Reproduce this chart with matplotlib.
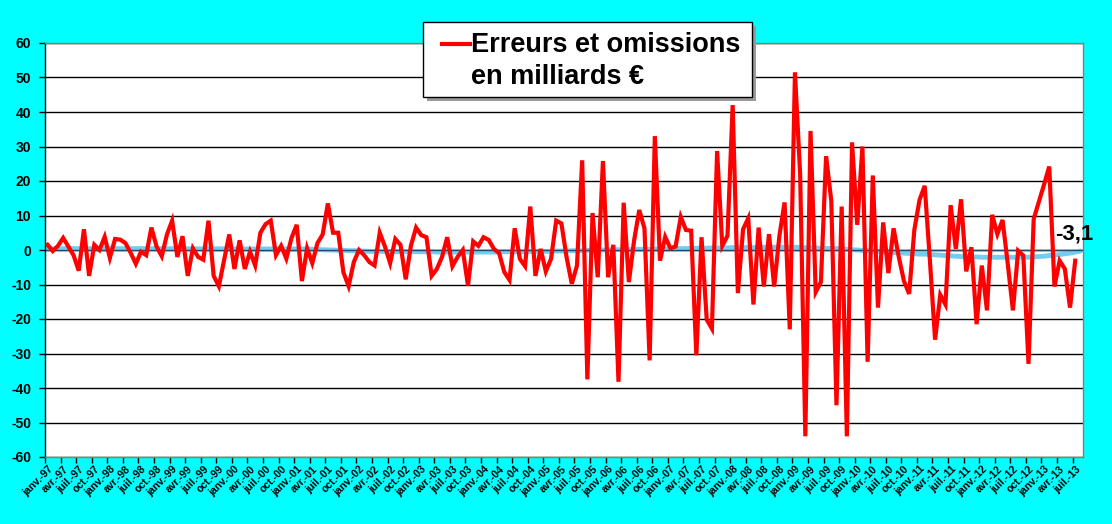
import matplotlib
matplotlib.use("Agg")
import matplotlib.pyplot as plt
import numpy as np
from matplotlib.patches import Rectangle
from matplotlib.lines import Line2D

plt.rcParams['font.family'] = ['Liberation Sans', 'DejaVu Sans']

months = ["janv.", "févr.", "mars", "avr.", "mai", "juin", "juil.", "août", "sept.", "oct.", "nov.", "déc."]
years = list(range(1997, 2014))
categories = [f"{m}-{str(y)[2:]}" for y in years for m in months][:200]  # janv.-97 .. août-13

# Erreurs et omissions (milliards €), monthly from janv.-97
erreurs = [
    1.5, -0.3, 1.2, 3.5, 1.0, -1.5, -6.0, 6.0, -7.5, 1.5, 0.0, 3.8,          # 1997
    -2.3, 3.2, 3.0, 2.0, -0.8, -4.0, -0.5, -1.5, 6.5, 1.0, -1.8, 4.5,        # 1998
    8.5, -2.0, 4.0, -7.5, 0.5, -2.0, -2.8, 8.5, -7.5, -10.5, -3.0, 4.5,      # 1999
    -5.5, 2.8, -5.5, -0.5, -4.5, 5.0, 7.5, 8.5, -1.5, 1.2, -2.5, 3.5,        # 2000
    7.3, -9.0, 0.5, -3.8, 2.0, 4.5, 13.5, 5.0, 5.0, -6.5, -10.5, -3.5,       # 2001
    0.0, -1.5, -3.5, -4.5, 5.0, 1.0, -3.8, 3.2, 1.5, -8.5, 1.2, 6.5,         # 2002
    4.3, 3.7, -7.5, -5.5, -2.0, 3.7, -4.7, -2.0, 0.0, -10.3, 2.5, 1.2,       # 2003
    3.7, 2.9, 0.3, -0.9, -6.4, -8.7, 6.3, -2.6, -4.7, 12.6, -7.5, 0.3,       # 2004
    -6.2, -2.6, 8.5, 7.7, -2.1, -9.8, -4.5, 26.0, -37.5, 10.7, -7.9, 25.8,   # 2005
    -7.9, 1.5, -38.2, 13.7, -9.3, 2.7, 11.6, 6.3, -32.0, 33.0, -3.1, 3.8,    # 2006
    0.5, 1.0, 9.6, 5.8, 5.6, -30.5, 3.7, -20.2, -22.8, 28.7, 1.2, 4.1,       # 2007
    42.0, -12.5, 6.0, 9.2, -15.8, 6.5, -10.6, 4.6, -10.6, 4.1, 13.8, -23.0,  # 2008
    51.5, 22.0, -54.0, 34.5, -12.2, -9.3, 27.2, 14.2, -45.0, 12.6, -54.0, 31.2,  # 2009
    7.3, 30.0, -32.4, 21.6, -16.7, 8.0, -6.7, 6.3, -2.0, -9.0, -12.7, 5.8,   # 2010
    14.5, 18.6, -3.0, -26.0, -13.0, -15.8, 13.0, 0.3, 14.7, -6.2, 0.8, -21.5,  # 2011
    -4.5, -17.5, 10.2, 4.6, 8.7, -4.0, -17.5, -0.2, -1.6, -33.0, 9.0, 14.0,  # 2012
    19.0, 24.2, -10.6, -3.1, -5.5, -16.7, -3.1, np.nan,                      # 2013
]

# Light blue trend line
tendance = [
    0.4, 0.4, 0.4, 0.4, 0.4, 0.4, 0.4, 0.4, 0.4, 0.4, 0.4, 0.4,
    0.4, 0.4, 0.4, 0.4, 0.4, 0.4, 0.4, 0.4, 0.4, 0.4, 0.4, 0.4,
    0.35, 0.35, 0.35, 0.35, 0.35, 0.35, 0.35, 0.35, 0.35, 0.35, 0.35, 0.35,
    0.3, 0.3, 0.3, 0.3, 0.3, 0.3, 0.3, 0.3, 0.3, 0.3, 0.3, 0.3,
    0.3, 0.3, 0.2, 0.2, 0.1, 0.1, 0.0, 0.0, -0.1, -0.1, -0.2, -0.2,
    -0.3, -0.3, -0.4, -0.4, -0.4, -0.4, -0.5, -0.5, -0.5, -0.5, -0.5, -0.5,
    -0.5, -0.5, -0.5, -0.6, -0.6, -0.6, -0.6, -0.6, -0.6, -0.6, -0.6, -0.6,
    -0.6, -0.6, -0.6, -0.6, -0.5, -0.5, -0.5, -0.5, -0.5, -0.4, -0.4, -0.4,
    -0.4, -0.4, -0.3, -0.3, -0.3, -0.2, -0.2, -0.2, -0.1, -0.1, 0.0, 0.0,
    0.0, 0.1, 0.1, 0.1, 0.1, 0.2, 0.2, 0.2, 0.2, 0.3, 0.3, 0.3,
    0.3, 0.4, 0.4, 0.4, 0.5, 0.5, 0.5, 0.5, 0.6, 0.6, 0.6, 0.6,
    0.7, 0.7, 0.7, 0.7, 0.7, 0.8, 0.8, 0.8, 0.8, 0.8, 0.8, 0.8,
    0.8, 0.7, 0.7, 0.6, 0.6, 0.5, 0.5, 0.4, 0.4, 0.3, 0.2, 0.1,
    0.0, -0.1, -0.2, -0.3, -0.4, -0.5, -0.6, -0.7, -0.8, -0.9, -1.0, -1.1,
    -1.2, -1.2, -1.3, -1.4, -1.5, -1.6, -1.7, -1.8, -1.9, -2.0, -2.0, -2.0,
    -2.1, -2.1, -2.1, -2.1, -2.1, -2.1, -2.1, -2.1, -2.1, -2.1, -2.0, -1.9,
    -1.8, -1.6, -1.5, -1.3, -1.1, -0.9, -0.6, -0.3,
]

yticks = list(range(-60, 61, 10))
legend_label = "Erreurs et omissions\nen milliards €"
last_label = "-3,1"

fig = plt.figure(figsize=(11.12, 5.24), dpi=100)
fig.patch.set_facecolor('#00FFFF')
ax = fig.add_axes([45/1112, 67/524, 1038/1112, 414/524])
ax.set_facecolor('white')

x = np.arange(len(categories))
ax.set_xlim(-0.5, len(categories) - 0.5)
ax.set_ylim(-60, 60)

for yv in yticks:
    ax.axhline(yv, color='black', lw=1.0, zorder=1)

ax.plot(x, tendance, color='#74CDF0', lw=3.5, zorder=2, solid_capstyle='round')
ax.axhline(0, color='#1F4A6E', lw=1.0, zorder=2.5)
ax.plot(np.arange(len(erreurs)), erreurs, color='#FF0000', lw=3.0, zorder=3,
        solid_joinstyle='miter')

# last value label
last_i = max(i for i, v in enumerate(erreurs) if not np.isnan(v))
ax.annotate(last_label, (last_i, erreurs[last_i]), xytext=(-1, 12), textcoords='offset points',
            ha='center', va='bottom', fontsize=16, fontweight='bold', color='black', zorder=5)

# axes styling
for s in ['top', 'right', 'bottom']:
    ax.spines[s].set_color('#808080')
    ax.spines[s].set_linewidth(1.0)
ax.spines['left'].set_color('black')
ax.spines['left'].set_linewidth(1.0)

ax.set_yticks(yticks)
ax.set_yticklabels([str(v) for v in yticks], fontsize=10, fontweight='bold')
ax.tick_params(axis='y', direction='out', length=4, width=1, pad=6)

ax.set_xticks(np.arange(-0.5, len(categories), 3))
ax.set_xticklabels([])
ax.tick_params(axis='x', which='major', direction='out', length=4, width=1, color='black')
ax.set_xticks(x[::3], minor=True)
ax.set_xticklabels(categories[::3], minor=True, rotation=45, ha='right', va='top',
                   fontsize=7.5, fontweight='bold', rotation_mode='anchor')
ax.tick_params(axis='x', which='minor', length=0, pad=5)

# legend box (manual, with shadow)
bx, by, bw, bh = 423, 524 - 97, 329, 75
fig.patches.append(Rectangle(((bx + 4) / 1112, (by - 4) / 524), bw / 1112, bh / 524,
                             transform=fig.transFigure, facecolor='#9a9a9a', edgecolor='none', zorder=10))
fig.patches.append(Rectangle((bx / 1112, by / 524), bw / 1112, bh / 524,
                             transform=fig.transFigure, facecolor='white', edgecolor='black', lw=1.0, zorder=11))
fig.lines.append(Line2D([442 / 1112, 470 / 1112], [(524 - 44) / 524] * 2, transform=fig.transFigure,
                        color='#FF0000', lw=3.0, zorder=12))
fig.text(471 / 1112, (524 - 32) / 524, legend_label, fontsize=19.5, fontweight='bold',
         ha='left', va='top', linespacing=1.32, zorder=12)

fig.savefig('out.png', dpi=100, facecolor=fig.get_facecolor())
